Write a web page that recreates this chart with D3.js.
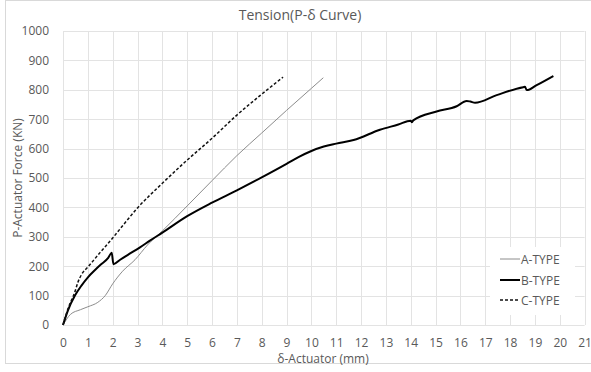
<!DOCTYPE html>
<html>
<head>
<meta charset="utf-8">
<script src="https://cdn.jsdelivr.net/npm/d3@7"></script>
<style>
  html, body { margin: 0; padding: 0; background: #fff; }
  svg { display: block; font-family: "Open Sans", "Liberation Sans", sans-serif; }
</style>
</head>
<body>
<svg id="chart" width="591" height="372"></svg>
<script>
// Load–displacement curves for the three specimen types
const seriesNames = ["A-TYPE", "B-TYPE", "C-TYPE"];

const aDelta = [0, 0.3, 0.7, 1.0, 1.4, 1.7, 2.0, 2.4, 2.9, 3.4, 4.0, 5.0, 6.0, 7.0, 8.0, 9.0, 10.0, 10.48];
const aForce = [0, 36, 52, 62, 77, 100, 140, 183, 222, 272, 320, 405, 491, 576, 653, 730, 805, 841];

const bDelta = [0, 0.2, 0.48, 0.75, 1.02, 1.3, 1.5, 1.82, 1.96, 2.03, 2.3, 2.6, 3.1, 3.5, 4.0, 5.0, 6.0, 7.0, 8.0, 9.0, 9.5, 10.0, 10.5, 11.0, 11.7, 12.76, 13.5, 14.0, 14.05, 14.1, 15.04, 15.85, 16.25, 16.4, 16.59, 17.46, 18.53, 18.6, 18.67, 19.07, 19.74];
const bForce = [0, 50, 100, 135, 164, 188, 204, 228, 246, 207, 222, 238, 264, 287, 314, 370, 416, 458, 502, 548, 572, 592, 607, 617, 629, 664, 682, 695, 690, 696, 726, 744, 762, 760, 756, 782, 809, 810, 799, 816, 847];

const cDelta = [0, 0.2, 0.48, 0.6, 0.75, 1.0, 1.5, 2.0, 2.5, 3.0, 4.0, 5.0, 6.0, 7.0, 8.0, 8.86];
const cForce = [0, 55, 113, 145, 172, 197, 247, 296, 348, 398, 482, 561, 635, 714, 785, 843];

const xTicks = d3.range(0, 22, 1);
const yTicks = d3.range(0, 1100, 100);

const svg = d3.select("#chart");
const W = 591, H = 372;
const margin = { left: 63, right: 6.4, top: 31, bottom: 47 };

const x = d3.scaleLinear().domain([0, 21]).range([margin.left, W - margin.right]);
const y = d3.scaleLinear().domain([0, 1000]).range([H - margin.bottom, margin.top]);

// chart area frame
svg.append("rect")
  .attr("x", 5.5).attr("y", 0.5)
  .attr("width", 600).attr("height", 363)
  .attr("fill", "none").attr("stroke", "#d9d9d9");

// gridlines
const grid = svg.append("g").attr("stroke", "#e3e3e3").attr("stroke-width", 1);
grid.selectAll("line.v").data(xTicks).enter().append("line")
  .attr("x1", d => Math.round(x(d)) + 0.5).attr("x2", d => Math.round(x(d)) + 0.5)
  .attr("y1", y(1000)).attr("y2", y(0));
grid.selectAll("line.h").data(yTicks).enter().append("line")
  .attr("x1", x(0)).attr("x2", x(21))
  .attr("y1", d => Math.round(y(d)) + 0.5).attr("y2", d => Math.round(y(d)) + 0.5);

// axes (labels only)
const xAxis = svg.append("g")
  .attr("transform", `translate(0,${y(0)})`)
  .call(d3.axisBottom(x).tickValues(xTicks).tickSize(0).tickPadding(13).tickFormat(d3.format("d")));
const yAxis = svg.append("g")
  .attr("transform", `translate(${x(0)},0)`)
  .call(d3.axisLeft(y).tickValues(yTicks).tickSize(0).tickPadding(14).tickFormat(d3.format("d")));
[xAxis, yAxis].forEach(g => {
  g.select(".domain").remove();
  g.selectAll("text")
    .attr("fill", "#595959")
    .style("font-size", "12px")
    .style("font-family", "'Open Sans', sans-serif");
});

// curves
const line = d3.line().curve(d3.curveMonotoneX).x(d => x(d[0])).y(d => y(d[1]));
const seriesData = [
  { name: seriesNames[0], pts: d3.zip(aDelta, aForce), stroke: "#8c8c8c", width: 1, dash: null },
  { name: seriesNames[1], pts: d3.zip(bDelta, bForce), stroke: "#000", width: 2, dash: null },
  { name: seriesNames[2], pts: d3.zip(cDelta, cForce), stroke: "#111", width: 1.5, dash: "3,2" }
];
svg.append("g").selectAll("path").data(seriesData).enter().append("path")
  .attr("d", d => line(d.pts))
  .attr("fill", "none")
  .attr("stroke", d => d.stroke)
  .attr("stroke-width", d => d.width)
  .attr("stroke-dasharray", d => d.dash)
  .attr("stroke-linejoin", "round");

// title and axis titles
svg.append("text")
  .attr("x", 300).attr("y", 20)
  .attr("text-anchor", "middle")
  .attr("fill", "#595959")
  .style("font-size", "14px")
  .text("Tension(P-δ Curve)");
svg.append("text")
  .attr("x", 323).attr("y", 363)
  .attr("text-anchor", "middle")
  .attr("fill", "#595959")
  .style("font-size", "12px")
  .text("δ-Actuator (mm)");
svg.append("text")
  .attr("transform", `translate(22,${(y(0) + y(1000)) / 2}) rotate(-90)`)
  .attr("text-anchor", "middle")
  .attr("fill", "#595959")
  .style("font-size", "12px")
  .text("P-Actuator Force (KN)");

// legend
const legend = svg.append("g");
legend.append("rect")
  .attr("x", 490).attr("y", 247).attr("width", 85).attr("height", 68)
  .attr("fill", "#fff");
const rowY = [259, 280, 300];
const items = legend.selectAll("g.item").data(seriesData).enter().append("g")
  .attr("transform", (d, i) => `translate(0,${rowY[i]})`);
items.append("line")
  .attr("x1", 500).attr("x2", 520).attr("y1", 0).attr("y2", 0)
  .attr("stroke", d => d.stroke)
  .attr("stroke-width", d => d.width)
  .attr("stroke-dasharray", d => d.dash);
items.append("text")
  .attr("x", 521).attr("y", 4.5)
  .attr("fill", "#595959")
  .style("font-size", "12px")
  .text(d => d.name);
</script>
</body>
</html>
